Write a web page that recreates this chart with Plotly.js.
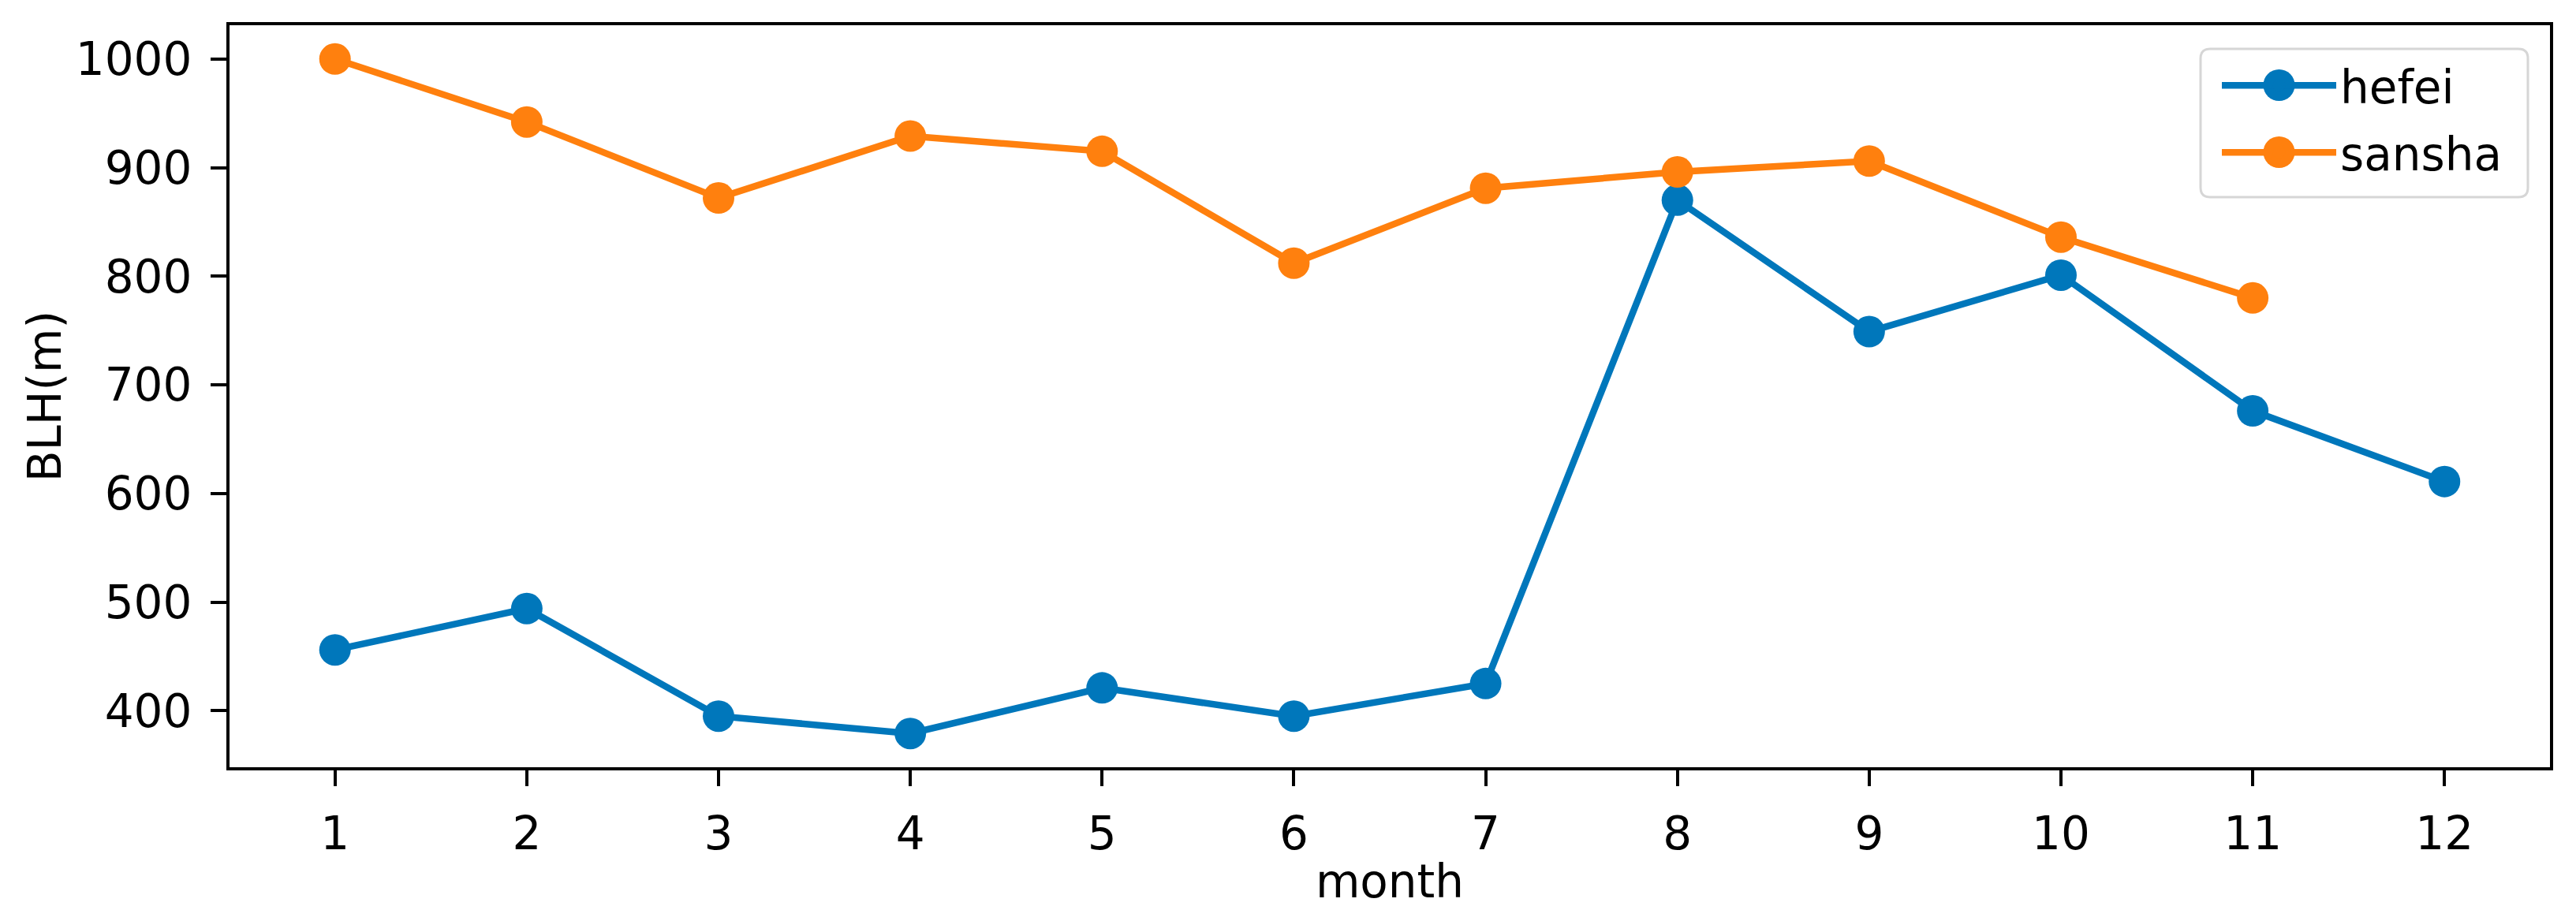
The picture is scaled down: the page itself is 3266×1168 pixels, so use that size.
<!DOCTYPE html>
<html>
<head>
<meta charset="utf-8">
<script src="https://cdn.plot.ly/plotly-3.0.1.min.js"></script>
<style>
  html, body { margin: 0; padding: 0; background: #ffffff; }
  #chart { width: 3266px; height: 1168px; }
</style>
</head>
<body>
<div id="chart"></div>
<script>
const months = [1, 2, 3, 4, 5, 6, 7, 8, 9, 10, 11, 12];
const hefei = [456, 494, 395, 379, 421, 395, 425, 870, 749, 801, 676, 611];
const sanshaMonths = [1, 2, 3, 4, 5, 6, 7, 8, 9, 10, 11];
const sansha = [1000, 942, 872, 929, 915, 812, 881, 896, 906, 836, 780];
const tickVals = [1, 2, 3, 4, 5, 6, 7, 8, 9, 10, 11, 12];
const yTickVals = [400, 500, 600, 700, 800, 900, 1000];
const seriesNames = ['hefei', 'sansha'];
const seriesColors = ['#0077bb', '#ff800e'];

const FONT = 'DejaVu Sans, Liberation Sans, sans-serif';

// plot-area geometry in pixels (used only for legend decoration placement)
const PL = 291, PR = 3233, PT = 32, PB = 973;
const px2x = p => (p - PL) / (PR - PL);
const px2y = p => (PB - p) / (PB - PT);

const traces = [
  {
    x: months, y: hefei, name: seriesNames[0], legendgroup: 'g1', type: 'scatter', mode: 'lines+markers',
    line: { color: seriesColors[0], width: 8.5 },
    marker: { color: seriesColors[0], size: 40 }
  },
  {
    x: sanshaMonths, y: sansha, name: seriesNames[1], legendgroup: 'g2', type: 'scatter', mode: 'lines+markers',
    line: { color: seriesColors[1], width: 8.5 },
    marker: { color: seriesColors[1], size: 40 }
  }
];

// rounded legend frame (matplotlib style) drawn as a shape beneath the legend
const bx0 = 2790, bx1 = 3205, by0 = 62, by1 = 250, rr = 12;
const framePath =
  'M' + px2x(bx0 + rr) + ',' + px2y(by0) +
  ' L' + px2x(bx1 - rr) + ',' + px2y(by0) +
  ' Q' + px2x(bx1) + ',' + px2y(by0) + ' ' + px2x(bx1) + ',' + px2y(by0 + rr) +
  ' L' + px2x(bx1) + ',' + px2y(by1 - rr) +
  ' Q' + px2x(bx1) + ',' + px2y(by1) + ' ' + px2x(bx1 - rr) + ',' + px2y(by1) +
  ' L' + px2x(bx0 + rr) + ',' + px2y(by1) +
  ' Q' + px2x(bx0) + ',' + px2y(by1) + ' ' + px2x(bx0) + ',' + px2y(by1 - rr) +
  ' L' + px2x(bx0) + ',' + px2y(by0 + rr) +
  ' Q' + px2x(bx0) + ',' + px2y(by0) + ' ' + px2x(bx0 + rr) + ',' + px2y(by0) + ' Z';

// legend entry geometry (pixels)
const legendLeft = 2812, legendItemWidth = 145, legendTop = 64, legendGap = 6.6;
const legendRowsY = [108, 193];
const legendMarkX = legendLeft + 5 + legendItemWidth / 2;

const shapes = [
  { type: 'path', xref: 'paper', yref: 'paper', path: framePath, layer: 'above',
    fillcolor: 'rgba(255,255,255,0.85)', line: { color: '#d6d6d6', width: 3 } }
];
legendRowsY.forEach((yy, i) => {
  shapes.push({
    type: 'circle', xref: 'paper', yref: 'paper', layer: 'above',
    x0: px2x(legendMarkX - 20), x1: px2x(legendMarkX + 20),
    y0: px2y(yy + 20), y1: px2y(yy - 20),
    fillcolor: seriesColors[i], line: { width: 0 }
  });
});

const layout = {
  width: 3266, height: 1168,
  paper_bgcolor: '#ffffff', plot_bgcolor: '#ffffff',
  margin: { l: PL, r: 3266 - PR, t: PT, b: 1168 - PB, pad: 0 },
  font: { family: FONT, size: 58, color: '#000000' },
  showlegend: true,
  legend: {
    x: px2x(legendLeft), y: px2y(legendTop), xanchor: 'left', yanchor: 'top',
    bgcolor: 'rgba(0,0,0,0)', borderwidth: 0,
    font: { family: FONT, size: 58, color: '#000000' },
    traceorder: 'grouped', tracegroupgap: legendGap, itemwidth: legendItemWidth
  },
  shapes: shapes,
  xaxis: {
    range: [0.45, 12.55],
    tickmode: 'array', tickvals: tickVals, ticktext: tickVals.map(String),
    showgrid: false, zeroline: false,
    showline: true, linecolor: '#000000', linewidth: 4, mirror: true,
    ticks: 'outside', ticklen: 20, tickwidth: 4, tickcolor: '#000000',
    ticklabelstandoff: 10,
    tickfont: { family: FONT, size: 58, color: '#000000' },
    title: { text: 'month', font: { family: FONT, size: 58, color: '#000000' }, standoff: 9 }
  },
  yaxis: {
    range: [347.95, 1031.05],
    tickmode: 'array', tickvals: yTickVals, ticktext: yTickVals.map(String),
    showgrid: false, zeroline: false,
    showline: true, linecolor: '#000000', linewidth: 4, mirror: true,
    ticks: 'outside', ticklen: 20, tickwidth: 4, tickcolor: '#000000',
    ticklabelstandoff: 12,
    tickfont: { family: FONT, size: 58, color: '#000000' },
    title: { text: 'BLH(m)', font: { family: FONT, size: 58, color: '#000000' }, standoff: 0 }
  }
};

Plotly.newPlot('chart', traces, layout, { displayModeBar: false, staticPlot: true });
</script>
</body>
</html>
